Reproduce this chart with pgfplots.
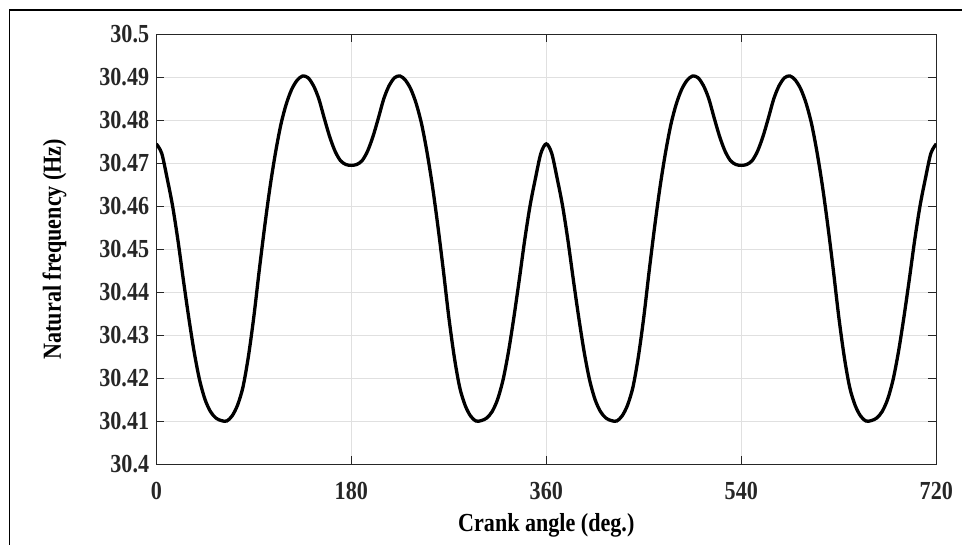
\documentclass[border=0pt]{standalone}
\usepackage{fontspec}
\setmainfont{Liberation Serif}[FakeStretch=0.85]
\usepackage{pgfplots}
\pgfplotsset{compat=1.18}
\begin{document}
\begin{tikzpicture}
\useasboundingbox (0bp,0bp) rectangle (962bp,545bp);
\draw[line width=1.5bp] (9.3bp,0bp) -- (9.3bp,535bp) -- (962bp,535bp);
\begin{axis}[
  at={(156.3bp,81bp)}, anchor=south west,
  scale only axis, width=780bp, height=429.7bp,
  xmin=0, xmax=720, ymin=30.4, ymax=30.5,
  xtick={0,180,360,540,720},
  xticklabels={0,180,360,540,720},
  ytick={30.4,30.41,30.42,30.43,30.44,30.45,30.46,30.47,30.48,30.49,30.5},
  yticklabels={30.4,30.41,30.42,30.43,30.44,30.45,30.46,30.47,30.48,30.49,30.5},
  scaled y ticks=false,
  tick align=inside, major tick length=8bp,
  tick style={line width=1bp, color=black!85},
  axis line style={line width=1bp, color=black!85},
  grid=major, grid style={line width=0.8bp, color=black!12},
  tick label style={font=\fontsize{26bp}{30bp}\selectfont\bfseries, text=black!85},
  yticklabel style={anchor=east, inner sep=0pt, xshift=-7bp},
  xticklabel style={anchor=north, inner sep=0pt, yshift=-17.7bp},
  xlabel={Crank angle (deg.)},
  ylabel={Natural frequency (Hz)},
  every axis x label/.style={at={(axis description cs:0.5,-0.158)}, anchor=base, font=\fontsize{26bp}{30bp}\selectfont\bfseries},
  every axis y label/.style={at={(axis description cs:-0.1222,0.5)}, rotate=90, anchor=base, font=\fontsize{26bp}{30bp}\selectfont\bfseries},
]
\addplot[black, line width=3.3bp, smooth] coordinates {
(0,30.4745)(5,30.4723)(10,30.4665)(15,30.4601)(20,30.4520)(25,30.4428)(30,30.4340)(35,30.4260)(40,30.4195)(45,30.4150)
(50,30.4122)(55,30.4107)(60,30.4101)(65,30.4100)(70,30.4112)(75,30.4137)(80,30.4179)(85,30.4250)(90,30.4342)(95,30.4450)
(100,30.4552)(105,30.4645)(110,30.4724)(115,30.4790)(120,30.4838)(125,30.4872)(130,30.4893)(135,30.4903)(140,30.4899)(145,30.4881)
(150,30.4850)(155,30.4805)(160,30.4762)(165,30.4728)(170,30.4706)(175,30.4697)(180,30.4695)
(185,30.4697)(190,30.4706)(195,30.4728)(200,30.4762)(205,30.4805)(210,30.4850)(215,30.4881)(220,30.4899)(225,30.4903)(230,30.4893)
(235,30.4872)(240,30.4838)(245,30.4790)(250,30.4724)(255,30.4645)(260,30.4552)(265,30.4450)(270,30.4342)(275,30.4250)(280,30.4179)
(285,30.4137)(290,30.4112)(295,30.4100)(300,30.4101)(305,30.4107)(310,30.4122)(315,30.4150)(320,30.4195)(325,30.4260)(330,30.4340)
(335,30.4428)(340,30.4520)(345,30.4601)(350,30.4665)(355,30.4723)(360,30.4745)
(365,30.4723)(370,30.4665)(375,30.4601)(380,30.4520)(385,30.4428)(390,30.4340)(395,30.4260)(400,30.4195)(405,30.4150)
(410,30.4122)(415,30.4107)(420,30.4101)(425,30.4100)(430,30.4112)(435,30.4137)(440,30.4179)(445,30.4250)(450,30.4342)(455,30.4450)
(460,30.4552)(465,30.4645)(470,30.4724)(475,30.4790)(480,30.4838)(485,30.4872)(490,30.4893)(495,30.4903)(500,30.4899)(505,30.4881)
(510,30.4850)(515,30.4805)(520,30.4762)(525,30.4728)(530,30.4706)(535,30.4697)(540,30.4695)
(545,30.4697)(550,30.4706)(555,30.4728)(560,30.4762)(565,30.4805)(570,30.4850)(575,30.4881)(580,30.4899)(585,30.4903)(590,30.4893)
(595,30.4872)(600,30.4838)(605,30.4790)(610,30.4724)(615,30.4645)(620,30.4552)(625,30.4450)(630,30.4342)(635,30.4250)(640,30.4179)
(645,30.4137)(650,30.4112)(655,30.4100)(660,30.4101)(665,30.4107)(670,30.4122)(675,30.4150)(680,30.4195)(685,30.4260)(690,30.4340)
(695,30.4428)(700,30.4520)(705,30.4601)(710,30.4665)(715,30.4723)(720,30.4745)
};
\end{axis}
\end{tikzpicture}
\end{document}
